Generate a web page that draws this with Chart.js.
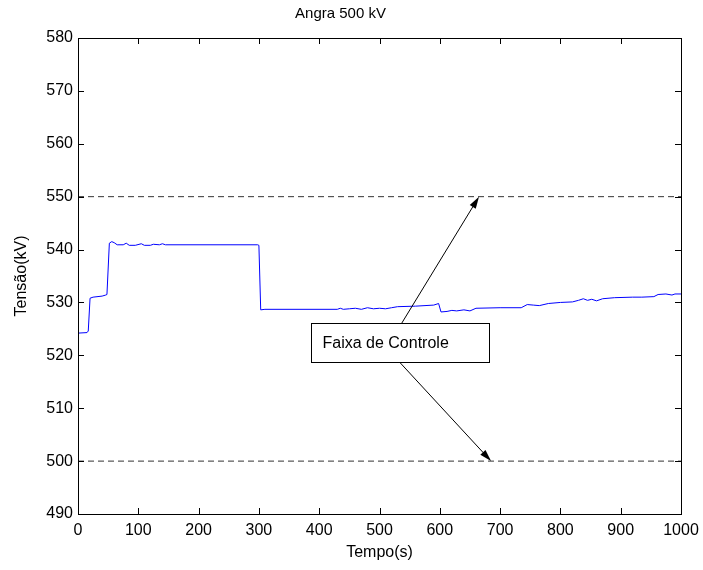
<!DOCTYPE html>
<html>
<head>
<meta charset="utf-8">
<script src="https://cdn.jsdelivr.net/npm/chart.js@4.4.1/dist/chart.umd.min.js"></script>
<style>
html,body{margin:0;padding:0;background:#fff;}
canvas{display:block;}
</style>
</head>
<body>
<canvas id="c" width="703" height="570"></canvas>
<script>
// ---- data ----
const chartTitle = "Angra 500 kV";
const xLabel = "Tempo(s)";
const yLabel = "Tensão(kV)";
const times = [0,15,17,20,25,40,46,48,52,56,60,65,75,80,85,95,105,110,120,125,135,140,145,298,300,303,310,430,435,440,450,460,470,480,490,500,510,520,530,560,590,598,602,612,620,628,640,650,660,700,735,745,755,765,780,800,820,830,838,845,852,860,870,890,920,935,955,962,975,985,990,1000];
const voltage = [524.2,524.3,524.6,530.8,531.0,531.2,531.4,531.5,541.2,541.5,541.3,540.9,540.9,541.2,540.8,540.8,541.1,540.8,540.8,541.0,540.9,541.1,540.9,540.9,540.8,528.6,528.7,528.7,528.9,528.7,528.8,528.9,528.7,529.0,528.8,528.9,528.8,529.0,529.2,529.3,529.5,529.8,528.2,528.3,528.5,528.4,528.6,528.4,528.9,529.0,529.0,529.6,529.5,529.4,529.8,530.0,530.1,530.4,530.7,530.4,530.6,530.3,530.7,530.9,531.0,531.0,531.1,531.5,531.6,531.4,531.6,531.6];
const controlLimits = [550, 500];
const xRange = [0, 1000];
const yRange = [490, 580];
const annotationText = "Faixa de Controle";
// annotation box (data units: time, kV) and arrow tips
const boxX = [386, 682];
const boxY = [526.1, 518.75];
const arrowStarts = [[537, 526.1], [533, 518.75]];
const arrowTips = [[665, 550], [685, 500]];

const FONT = "'Liberation Sans', Arial, sans-serif";

const datasets = [{
  data: times.map((t, i) => ({x: t, y: voltage[i]})),
  borderColor: '#0000ff', borderWidth: 1, pointRadius: 0, tension: 0, fill: false
}];
controlLimits.forEach(v => datasets.push({
  data: [{x: xRange[0], y: v}, {x: xRange[1], y: v}],
  borderColor: '#333333', borderWidth: 1, borderDash: [6, 4], pointRadius: 0, fill: false
}));

const framePlugin = {
  id: 'frame',
  afterDraw(chart) {
    const ctx = chart.ctx, a = chart.chartArea;
    const xs = chart.scales.x, ys = chart.scales.y;
    ctx.save();
    ctx.strokeStyle = '#000'; ctx.lineWidth = 1;
    ctx.strokeRect(Math.round(a.left) + 0.5, Math.round(a.top) + 0.5, Math.round(a.right - a.left), Math.round(a.bottom - a.top));
    ctx.beginPath();
    xs.ticks.forEach(t => {
      const px = Math.round(xs.getPixelForValue(t.value)) + 0.5;
      ctx.moveTo(px, a.bottom); ctx.lineTo(px, a.bottom - 6);
      ctx.moveTo(px, a.top); ctx.lineTo(px, a.top + 6);
    });
    ys.ticks.forEach(t => {
      const py = Math.round(ys.getPixelForValue(t.value)) + 0.5;
      ctx.moveTo(a.left, py); ctx.lineTo(a.left + 6, py);
      ctx.moveTo(a.right, py); ctx.lineTo(a.right - 6, py);
    });
    ctx.stroke();

    // arrows
    arrowStarts.forEach((s, i) => {
      const x0 = xs.getPixelForValue(s[0]), y0 = ys.getPixelForValue(s[1]);
      const x1 = xs.getPixelForValue(arrowTips[i][0]), y1 = ys.getPixelForValue(arrowTips[i][1]);
      const ang = Math.atan2(y1 - y0, x1 - x0);
      const L = 12, W = 3.5;
      ctx.beginPath(); ctx.moveTo(x0, y0); ctx.lineTo(x1 - Math.cos(ang) * L * 0.8, y1 - Math.sin(ang) * L * 0.8); ctx.stroke();
      ctx.beginPath();
      ctx.moveTo(x1, y1);
      ctx.lineTo(x1 - Math.cos(ang) * L - Math.sin(ang) * W, y1 - Math.sin(ang) * L + Math.cos(ang) * W);
      ctx.lineTo(x1 - Math.cos(ang) * L + Math.sin(ang) * W, y1 - Math.sin(ang) * L - Math.cos(ang) * W);
      ctx.closePath(); ctx.fillStyle = '#000'; ctx.fill();
    });
    // box
    const bx0 = Math.round(xs.getPixelForValue(boxX[0])) + 0.5, bx1 = Math.round(xs.getPixelForValue(boxX[1])) + 0.5;
    const by0 = Math.round(ys.getPixelForValue(boxY[0])) + 0.5, by1 = Math.round(ys.getPixelForValue(boxY[1])) + 0.5;
    ctx.fillStyle = '#fff';
    ctx.fillRect(bx0, by0, bx1 - bx0, by1 - by0);
    ctx.strokeRect(bx0, by0, bx1 - bx0, by1 - by0);
    ctx.fillStyle = '#000';
    ctx.font = '16px ' + FONT;
    ctx.textBaseline = 'middle'; ctx.textAlign = 'left';
    ctx.fillText(annotationText, bx0 + 11, (by0 + by1) / 2 + 1);
    ctx.restore();
  }
};

new Chart(document.getElementById('c'), {
  type: 'line',
  data: { datasets },
  plugins: [framePlugin],
  options: {
    responsive: false, animation: false, devicePixelRatio: 1,
    layout: { padding: { left: 0, right: 22, top: 0, bottom: 0 } },
    plugins: {
      legend: { display: false }, tooltip: { enabled: false },
      title: { display: true, text: chartTitle, color: '#000', font: { family: FONT, size: 15, weight: 'normal' }, padding: { top: 5, bottom: 15 } }
    },
    scales: {
      x: {
        type: 'linear', min: xRange[0], max: xRange[1],
        ticks: { stepSize: 100, color: '#000', font: { family: FONT, size: 16 }, padding: 7, maxRotation: 0, callback: v => String(v) },
        grid: { display: false, drawTicks: false },
        border: { display: false },
        title: { display: true, text: xLabel, color: '#000', font: { family: FONT, size: 16 }, padding: { top: 0, bottom: 8 } },
        afterFit(s) { s.height = 56; s.paddingLeft = 0; s.paddingRight = 0; }
      },
      y: {
        type: 'linear', min: yRange[0], max: yRange[1],
        ticks: { stepSize: 10, color: '#000', font: { family: FONT, size: 16 }, padding: 5, callback: v => String(v) },
        grid: { display: false, drawTicks: false },
        border: { display: false },
        title: { display: true, text: yLabel, color: '#000', font: { family: FONT, size: 16 }, padding: { top: 12, bottom: 0 } },
        afterFit(s) { s.width = 78; }
      }
    }
  }
});
</script>
</body>
</html>
